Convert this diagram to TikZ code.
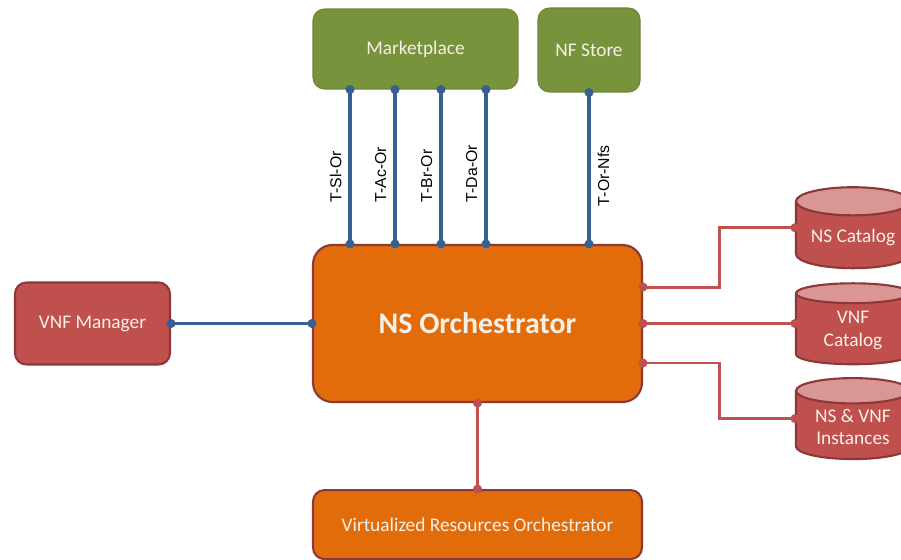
\documentclass[tikz,border=0pt]{standalone}
\usepackage{fontspec}
\setmainfont{Carlito}
\newfontfamily\labelfont{Liberation Sans}
\usetikzlibrary{positioning,shapes.geometric,arrows.meta}
\definecolor{nfvgreen}{RGB}{119,147,60}
\definecolor{nfvgreenline}{RGB}{108,134,55}
\definecolor{nfvorange}{RGB}{227,108,10}
\definecolor{nfvred}{RGB}{192,80,77}
\definecolor{nfvdarkred}{RGB}{140,56,54}
\definecolor{nfvpink}{RGB}{217,150,148}
\definecolor{nfvblue}{RGB}{54,96,146}
\definecolor{nfvtext}{RGB}{245,240,232}

\begin{document}
\begin{tikzpicture}[
    x=0.02cm, y=0.02cm,
    box/.style={rectangle, rounded corners=6.5pt, draw=nfvdarkred, line width=1.2pt, fill=nfvred,
                text=nfvtext, align=center, font=\fontsize{11}{13}\selectfont},
    store/.style={box, draw=nfvgreenline, line width=0.6pt, fill=nfvgreen},
    orchbox/.style={box, rounded corners=11pt, fill=nfvorange},
    db/.style={cylinder, shape border rotate=90, aspect=0.32, draw=nfvdarkred, line width=1.2pt,
               cylinder uses custom fill, cylinder body fill=nfvred, cylinder end fill=nfvpink,
               text=nfvtext, align=center, font=\fontsize{11}{13}\selectfont,
               minimum width=2.28cm, minimum height=1.62cm, inner sep=1pt},
    bluelink/.style={{Circle[length=5pt]}-{Circle[length=5pt]}, line width=1.8pt, draw=nfvblue,
                     shorten <=-2.5pt, shorten >=-2.5pt},
    redlink/.style={bluelink, draw=nfvred, line width=1.7pt},
    iflabel/.style={font=\labelfont\fontsize{9}{11}\selectfont, rotate=90, inner xsep=0pt, inner ysep=4pt}
]
    \useasboundingbox (0,0) rectangle (901,559);

    % Orchestrator and its neighbours
    \node[orchbox, minimum width=6.58cm, minimum height=3.14cm,
          font=\bfseries\fontsize{17}{20}\selectfont] (orch) at (477.5,235.5) {NS Orchestrator};
    \node[box, minimum width=3.1cm, minimum height=1.64cm, left=2.82cm of orch] (vnfm) {VNF Manager};
    \node[orchbox, rounded corners=6.5pt, minimum width=6.58cm, minimum height=1.38cm,
          below=1.72cm of orch] (vro) {Virtualized Resources Orchestrator};

    % Top stores
    \node[store, minimum width=4.1cm, minimum height=1.6cm] (market) at (415.5,510) {Marketplace};
    \node[store, minimum width=2.04cm, minimum height=1.68cm] (nfstore) at (589,509) {NF Store};

    % Repositories
    \node[db] (nscat)  at (853,322)   {NS Catalog};
    \node[db] (vnfcat) at (853,228.5) {VNF\\Catalog};
    \node[db] (inst)   at (853,132)   {NS \& VNF\\Instances};

    % Marketplace interfaces
    \foreach \dx/\name/\txt in {-1.31cm/sl/T-Sl-Or, -0.41cm/ac/T-Ac-Or, 0.51cm/br/T-Br-Or, 1.41cm/da/T-Da-Or}{
        \path ([xshift=\dx]market.south) coordinate (\name);
        \draw[bluelink] (\name) -- node[iflabel, pos=0.74, anchor=south west]{\txt} (\name |- orch.north);
    }
    \draw[bluelink] (nfstore.south) -- node[iflabel, pos=0.76, anchor=north west]{T-Or-Nfs}
        (nfstore.south |- orch.north);
    \draw[bluelink] (vnfm.east) -- (vnfm.east -| orch.west);

    % Repository links
    \path (nscat.west |- nscat.shape center) coordinate (nscatin)
          (inst.west |- inst.shape center)   coordinate (instin);
    \draw[redlink] ([yshift=0.73cm]orch.east) -- ++(76,0) |- (nscatin);
    \draw[redlink] (orch.east) -- (orch.east -| vnfcat.west);
    \draw[redlink] ([yshift=-0.79cm]orch.east) -- ++(76,0) |- (instin);
    \draw[redlink] (orch.south) -- (vro.north);
\end{tikzpicture}
\end{document}
